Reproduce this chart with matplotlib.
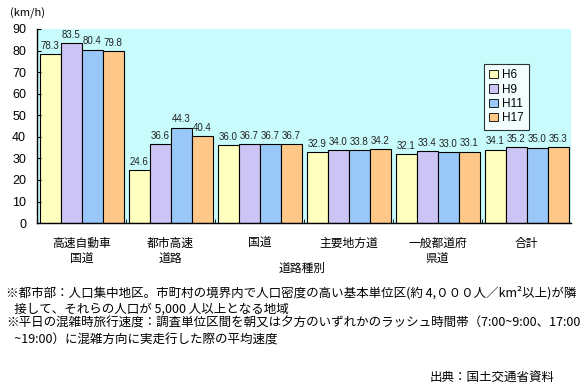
import numpy as np
import matplotlib.pyplot as plt
from matplotlib.patches import Patch

plt.rcParams['font.family'] = ['Noto Sans CJK JP', 'DejaVu Sans']

# ---------- データ ----------
categories = ['高速自動車\n国道', '都市高速\n道路', '国道', '主要地方道', '一般都道府\n県道', '合計']
years = ['H6', 'H9', 'H11', 'H17']
h6 = [78.3, 24.6, 36.0, 32.9, 32.1, 34.1]
h9 = [83.5, 36.6, 36.7, 34.0, 33.4, 35.2]
h11 = [80.4, 44.3, 36.7, 33.8, 33.0, 35.0]
h17 = [79.8, 40.4, 36.7, 34.2, 33.1, 35.3]
series = [h6, h9, h11, h17]
colors = ['#FFFFC0', '#CCC4F4', '#99C8F8', '#FFC888']

notes = [
    '※都市部：人口集中地区。市町村の境界内で人口密度の高い基本単位区(約 4,０００人／km²以上)が隣',
    '   接して、それらの人口が 5,000 人以上となる地域',
    '※平日の混雑時旅行速度：調査単位区間を朝又は夕方のいずれかのラッシュ時間帯（7:00~9:00、17:00',
    '   ~19:00）に混雑方向に実走行した際の平均速度',
]

# ---------- 描画 ----------
fig = plt.figure(figsize=(5.81, 3.86), dpi=100)
ax = fig.add_axes([0.064, 0.422, 0.919, 0.503])
ax.set_facecolor('#C8FCFC')

x = np.arange(len(categories))
w = 0.236
for i, (vals, c) in enumerate(zip(series, colors)):
    pos = x + (i - 1.5) * w
    ax.bar(pos, vals, width=w, color=c, edgecolor='black', linewidth=0.8, label=years[i])
    for px, v in zip(pos, vals):
        ax.text(px, v + 1.5, f'{v:.1f}', ha='center', va='bottom', fontsize=7,
                family='Liberation Sans', color='#222222')

ax.set_xlim(-0.5, len(categories) - 0.5)
ax.set_ylim(0, 90)
ax.set_yticks(range(0, 91, 10))
ax.tick_params(axis='y', direction='in', length=3, labelsize=9, pad=8)
for lb in ax.get_yticklabels():
    lb.set_family('Liberation Sans')
ax.set_xticks(x)
ax.set_xticklabels(categories, fontsize=8.5, linespacing=1.3)
ax.tick_params(axis='x', length=0, pad=10)
# 区切りの目盛り
ax.set_xticks(np.arange(0.5, len(categories) - 0.5), minor=True)
ax.tick_params(axis='x', which='minor', direction='in', length=3)

for s in ['top', 'right']:
    ax.spines[s].set_visible(False)
ax.spines['left'].set_linewidth(1.0)
ax.spines['bottom'].set_linewidth(1.0)

handles = [Patch(facecolor=c, edgecolor='black', linewidth=0.6) for c in colors]
leg = ax.legend(handles, years, loc='upper left', bbox_to_anchor=(0.826, 0.85),
                prop={'family': 'Liberation Sans', 'size': 8.5}, frameon=True,
                fancybox=False, edgecolor='black',
                handlelength=0.7, handleheight=0.7, handletextpad=0.4,
                labelspacing=0.2, borderpad=0.45)
leg.get_frame().set_linewidth(0.8)

fig.text(0.017, 0.965, '(km/h)', fontsize=8, va='center', ha='left')
fig.text(0.52, 0.305, '道路種別', fontsize=8.5, ha='center', va='center')

ys = [0.241, 0.199, 0.163, 0.119]
for t, yy in zip(notes, ys):
    fig.text(0.01, yy, t, fontsize=9, ha='left', va='center')
fig.text(0.955, 0.022, '出典：国土交通省資料', fontsize=9, ha='right', va='center')

fig.savefig('out.png', dpi=100)
